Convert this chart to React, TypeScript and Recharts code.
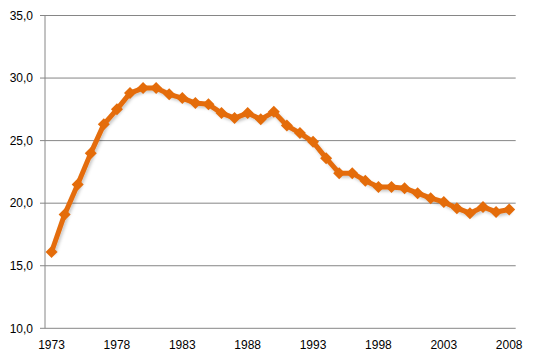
import { LineChart, Line, XAxis, YAxis, CartesianGrid } from 'recharts';

const years = [
  1973, 1974, 1975, 1976, 1977, 1978, 1979, 1980, 1981, 1982, 1983, 1984,
  1985, 1986, 1987, 1988, 1989, 1990, 1991, 1992, 1993, 1994, 1995, 1996,
  1997, 1998, 1999, 2000, 2001, 2002, 2003, 2004, 2005, 2006, 2007, 2008,
];

const values = [
  16.1, 19.1, 21.5, 24.0, 26.3, 27.5, 28.8, 29.2, 29.2, 28.7, 28.4, 28.0,
  27.9, 27.2, 26.8, 27.2, 26.7, 27.3, 26.2, 25.6, 24.9, 23.6, 22.4, 22.4,
  21.8, 21.3, 21.3, 21.2, 20.8, 20.4, 20.1, 19.6, 19.2, 19.7, 19.3, 19.5,
];

const labelYears = [1973, 1978, 1983, 1988, 1993, 1998, 2003, 2008];
const yTicks = [10, 15, 20, 25, 30, 35];

const data = years.map((year, i) => ({ year, value: values[i] }));
const boundaries = [...years.map((y) => y - 0.5), years[years.length - 1] + 0.5];

const ORANGE = '#E46C0A';
const AXIS = '#868686';
const tickFont = { fill: '#000', fontSize: 12, fontFamily: 'Liberation Sans, Arial, sans-serif' };

const Diamond = (props: any) => {
  const { cx, cy } = props;
  if (cx == null || cy == null) return null;
  const r = 6;
  return (
    <polygon
      points={`${cx},${cy - r} ${cx + r},${cy} ${cx},${cy + r} ${cx - r},${cy}`}
      fill={ORANGE}
    />
  );
};

export default function App() {
  return (
    <div style={{ position: 'absolute', left: 0, top: 0, background: '#fff' }}>
      <LineChart
        width={537}
        height={363}
        data={data}
        margin={{ top: 15.5, right: 21.3, left: 0, bottom: 4.7 }}
      >
        <defs>
          <filter id="shadow" x="-10%" y="-10%" width="120%" height="130%">
            <feDropShadow dx="1.5" dy="2" stdDeviation="1.5" floodColor="#000" floodOpacity="0.22" />
          </filter>
        </defs>
        <CartesianGrid vertical={false} stroke={AXIS} strokeWidth={1} />
        <XAxis
          xAxisId="marks"
          dataKey="year"
          type="number"
          domain={[1972.5, 2008.5]}
          allowDataOverflow
          ticks={boundaries}
          interval={0}
          height={0}
          tick={false}
          tickSize={5}
          axisLine={{ stroke: AXIS }}
          tickLine={{ stroke: AXIS }}
        />
        <XAxis
          xAxisId="labels"
          dataKey="year"
          type="number"
          domain={[1972.5, 2008.5]}
          allowDataOverflow
          ticks={labelYears}
          interval={0}
          height={30}
          axisLine={false}
          tickLine={false}
          tickSize={5}
          tickMargin={7}
          tick={tickFont}
        />
        <YAxis
          domain={[10, 35]}
          ticks={yTicks}
          interval={0}
          width={45}
          tickSize={5}
          tickMargin={7}
          axisLine={{ stroke: AXIS }}
          tickLine={{ stroke: AXIS }}
          tick={tickFont}
          tickFormatter={(v: number) => v.toFixed(1).replace('.', ',')}
        />
        <Line
          xAxisId="marks"
          type="linear"
          dataKey="value"
          stroke={ORANGE}
          strokeWidth={5}
          strokeLinejoin="round"
          dot={<Diamond />}
          activeDot={false}
          filter="url(#shadow)"
          isAnimationActive={false}
        />
      </LineChart>
    </div>
  );
}
